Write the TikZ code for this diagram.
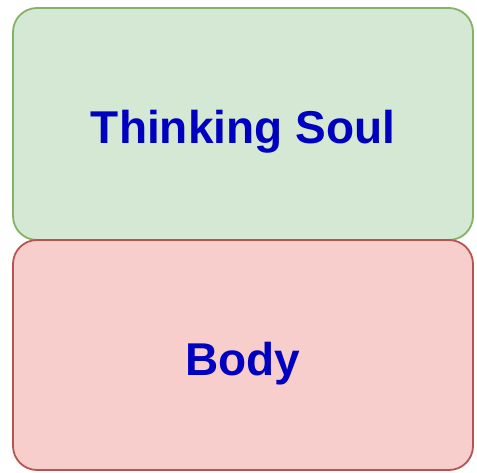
\documentclass[tikz,border=0pt]{standalone}
\usepackage{fontspec}
\setmainfont{Liberation Sans}
\usetikzlibrary{positioning}
\definecolor{soul-fill}{HTML}{D5E8D4}
\definecolor{soul-line}{HTML}{82B366}
\definecolor{body-fill}{HTML}{F8CECC}
\definecolor{body-line}{HTML}{B85450}
\definecolor{label-color}{HTML}{0000C0}

\begin{document}
\begin{tikzpicture}[x=1pt, y=-1pt,
    part/.style={rectangle, draw, rounded corners=24pt, line width=1.8pt, minimum width=460pt, align=center,
        font=\fontsize{46}{50}\selectfont\bfseries, text=label-color, inner sep=0pt,
        text height=40pt, text depth=0pt}]
    \useasboundingbox (0,0) rectangle (477,473);

    % Upper box
    \node[part, fill=soul-fill, draw=soul-line, minimum height=232pt] (soul) at (243,124) {Thinking Soul};

    % Lower box
    \node[part, fill=body-fill, draw=body-line, minimum height=230pt] (body) at (243,355) {Body};
\end{tikzpicture}
\end{document}
